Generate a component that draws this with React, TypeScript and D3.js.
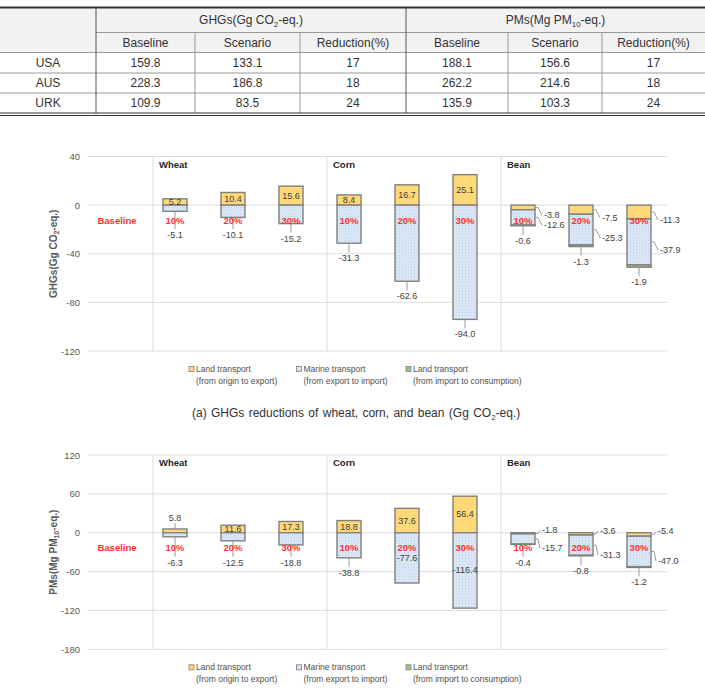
import React from "react";
import * as d3 from "d3";

const FONT = "'Liberation Sans', Arial, Helvetica, sans-serif";

// ---- Summary table ----
const countries = ["USA", "AUS", "URK"];
const ghgBaseline = [159.8, 228.3, 109.9];
const ghgScenario = [133.1, 186.8, 83.5];
const ghgReduction = [17, 18, 24];
const pmBaseline = [188.1, 262.2, 135.9];
const pmScenario = [156.6, 214.6, 103.3];
const pmReduction = [17, 18, 24];
const subHeaders = ["Baseline", "Scenario", "Reduction(%)"];

// ---- Stacked bar charts ----
const crops = ["Wheat", "Corn", "Bean"];
const scenarios = ["10%", "20%", "30%"];
const legendLines = [
  ["Land transport", "(from origin to export)"],
  ["Marine transport", "(from export to import)"],
  ["Land transport", "(from import to consumption)"],
];

// GHGs (Gg CO2-eq.)
const ghgTicks = [40, 0, -40, -80, -120];
const ghgLandOrigin = [5.2, 10.4, 15.6, 8.4, 16.7, 25.1, -3.8, -7.5, -11.3];
const ghgMarine = [-5.1, -10.1, -15.2, -31.3, -62.6, -94.0, -12.6, -25.3, -37.9];
const ghgLandImport = [0, 0, 0, 0, 0, 0, -0.6, -1.3, -1.9];

// PMs (Mg PM10-eq.)
const pmTicks = [120, 60, 0, -60, -120, -180];
const pmLandOrigin = [5.8, 11.6, 17.3, 18.8, 37.6, 56.4, -1.8, -3.6, -5.4];
const pmMarine = [-6.3, -12.5, -18.8, -38.8, -77.6, -116.4, -15.7, -31.3, -47.0];
const pmLandImport = [0, 0, 0, 0, 0, 0, -0.4, -0.8, -1.2];

const YELLOW = "#ffd877";
const GREEN = "#9fc18f";
const EDGE = "#808080";
const RED = "#ff3030";
const GRID = "#dcdcdc";
const LEADER = "#9a9a9a";

type ChartProps = {
  top: number;
  bottom: number;
  ticks: number[];
  origin: number[];
  marine: number[];
  imp: number[];
  title: React.ReactNode;
  insideMin: number;
  sideGap: number;
  dyO: number;
  dyM: number;
};

function StackChart(p: ChartProps) {
  const left = 88;
  const right = 668;
  const slots = ["Baseline", ...crops.flatMap((c) => scenarios.map((s) => `${c} ${s}`))];
  const x = d3.scaleBand<string>().domain(slots).range([left, right]).padding(0);
  const y = d3
    .scaleLinear()
    .domain([p.ticks[0], p.ticks[p.ticks.length - 1]])
    .range([p.top, p.bottom]);
  const zeroY = y(0);
  const rows = p.origin.map((v, i) => ({ origin: v, marine: p.marine[i], imp: p.imp[i] }));
  const keys = ["origin", "marine", "imp"];
  const stacked = d3.stack<any>().keys(keys).offset(d3.stackOffsetDiverging)(rows);
  const fills = [YELLOW, "url(#dots)", GREEN];
  const barW = 24;
  const cx = (i: number) => (x(slots[i + 1]) as number) + x.bandwidth() / 2;
  const fmt = (v: number) => v.toFixed(1);
  const labelStyle = { fontFamily: FONT, fontSize: 9, fill: "#404040" } as const;

  const leaders: React.ReactNode[] = [];
  const labels: React.ReactNode[] = [];

  rows.forEach((r, i) => {
    const c = cx(i);
    const o = stacked[0][i];
    const m = stacked[1][i];
    const g = stacked[2][i];
    const minVal = Math.min(o[0], o[1], m[0], m[1], g[0], g[1]);
    const bottomY = y(minVal);
    const belowY = Math.max(bottomY + 15, zeroY + 30);
    const barRight = c + barW / 2;

    const below = (v: number, k: string) => {
      leaders.push(
        <line key={`lb${k}${i}`} x1={c} x2={c} y1={bottomY} y2={belowY - 6} stroke={LEADER} strokeWidth={1} />
      );
      labels.push(
        <text key={`tb${k}${i}`} x={c} y={belowY} textAnchor="middle" dominantBaseline="central" {...labelStyle}>
          {fmt(v)}
        </text>
      );
    };

    if (r.origin > 0) {
      const topY = y(r.origin);
      if (zeroY - topY >= 5) {
        labels.push(
          <text key={`to${i}`} x={c} y={(zeroY + topY) / 2} textAnchor="middle" dominantBaseline="central" {...labelStyle}>
            {fmt(r.origin)}
          </text>
        );
      } else {
        leaders.push(
          <line key={`lo${i}`} x1={c} x2={c} y1={topY} y2={topY - 6} stroke={LEADER} strokeWidth={1} />
        );
        labels.push(
          <text key={`to${i}`} x={c} y={topY - 11} textAnchor="middle" dominantBaseline="central" {...labelStyle}>
            {fmt(r.origin)}
          </text>
        );
      }
      const mh = y(Math.min(m[0], m[1])) - zeroY;
      if (mh > p.insideMin) {
        labels.push(
          <text key={`tm${i}`} x={c} y={zeroY + mh / 2} textAnchor="middle" dominantBaseline="central" {...labelStyle}>
            {fmt(r.marine)}
          </text>
        );
      } else {
        below(r.marine, "m");
      }
    } else {
      // all segments negative: values set out to the right of the bar
      const side = (seg: number[], v: number, dy: number, k: string) => {
        const sy = (y(seg[0]) + y(seg[1])) / 2;
        const ty = sy + dy;
        const tx = barRight + p.sideGap;
        leaders.push(
          <polyline
            key={`ls${k}${i}`}
            points={`${barRight + 1},${sy} ${barRight + 3},${sy} ${tx - 2},${ty}`}
            fill="none"
            stroke={LEADER}
            strokeWidth={1}
          />
        );
        labels.push(
          <text key={`ts${k}${i}`} x={tx} y={ty} dominantBaseline="central" {...labelStyle}>
            {fmt(v)}
          </text>
        );
      };
      side(o as unknown as number[], r.origin, p.dyO, "o");
      side(m as unknown as number[], r.marine, p.dyM, "m");
      if (r.imp !== 0) below(r.imp, "g");
    }
  });

  return (
    <g>
      {/* horizontal gridlines and tick labels */}
      {p.ticks.map((t) => (
        <g key={`t${t}`}>
          <line x1={left} x2={right - 1} y1={y(t)} y2={y(t)} stroke={GRID} strokeWidth={1} />
          <text
            x={80}
            y={y(t)}
            textAnchor="end"
            dominantBaseline="central"
            fontFamily={FONT}
            fontSize={9.5}
            fill="#595959"
          >
            {t}
          </text>
        </g>
      ))}
      {/* crop group separators and names */}
      {crops.map((cr) => {
        const sx = (x(`${cr} 10%`) as number) + 7;
        return (
          <g key={cr}>
            <line x1={sx} x2={sx} y1={p.top} y2={p.bottom} stroke={GRID} strokeWidth={1} />
            <text
              x={sx + 6}
              y={p.top + 7.5}
              dominantBaseline="central"
              fontFamily={FONT}
              fontSize={9.5}
              fontWeight="bold"
              fill="#262626"
            >
              {cr}
            </text>
          </g>
        );
      })}
      {/* y-axis title */}
      <text
        transform={`translate(53,${(p.top + p.bottom) / 2}) rotate(-90)`}
        textAnchor="middle"
        dominantBaseline="central"
        fontFamily={FONT}
        fontSize={10}
        fontWeight="bold"
        fill="#595959"
      >
        {p.title}
      </text>
      {/* stacked bars */}
      {stacked.map((s, k) =>
        s.map((d, i) => {
          const hi = Math.max(d[0], d[1]);
          const lo = Math.min(d[0], d[1]);
          if (hi === lo) return null;
          return (
            <rect
              key={`b${k}-${i}`}
              x={cx(i) - barW / 2}
              y={y(hi)}
              width={barW}
              height={y(lo) - y(hi)}
              fill={fills[k]}
              stroke={EDGE}
              strokeWidth={1.4}
            />
          );
        })
      )}
      {leaders}
      {/* scenario labels */}
      <text
        x={(x("Baseline") as number) + x.bandwidth() / 2}
        y={zeroY + 15}
        textAnchor="middle"
        dominantBaseline="central"
        fontFamily={FONT}
        fontSize={9.5}
        fontWeight="bold"
        fill={RED}
      >
        Baseline
      </text>
      {rows.map((_, i) => (
        <text
          key={`p${i}`}
          x={cx(i)}
          y={zeroY + 15}
          textAnchor="middle"
          dominantBaseline="central"
          fontFamily={FONT}
          fontSize={9.5}
          fontWeight="bold"
          fill={RED}
        >
          {scenarios[i % 3]}
        </text>
      ))}
      {labels}
      {/* legend */}
      {legendLines.map((ln, k) => {
        const lx = [189, 296.5, 406][k];
        const ly = p.bottom + 18;
        return (
          <g key={`lg${k}`}>
            <rect x={lx} y={ly - 2.5} width={5} height={5} fill={fills[k]} stroke={EDGE} strokeWidth={0.8} />
            <text x={lx + 7} y={ly} dominantBaseline="central" fontFamily={FONT} fontSize={8.5} fill="#505050">
              {ln[0]}
            </text>
            <text x={lx + 7} y={ly + 11.5} dominantBaseline="central" fontFamily={FONT} fontSize={8.5} fill="#505050">
              {ln[1]}
            </text>
          </g>
        );
      })}
    </g>
  );
}

function SummaryTable() {
  const cols = [0, 96, 195, 300, 406, 508, 602, 705];
  const rowsY = [7.5, 32.5, 52.5, 73, 93, 113];
  const tStyle = { fontFamily: FONT, fontSize: 12, fill: "#333" } as const;
  const mid = (a: number, b: number) => (a + b) / 2;
  const data = countries.map((c, i) => [
    c,
    ghgBaseline[i].toFixed(1),
    ghgScenario[i].toFixed(1),
    String(ghgReduction[i]),
    pmBaseline[i].toFixed(1),
    pmScenario[i].toFixed(1),
    String(pmReduction[i]),
  ]);
  return (
    <g>
      <rect x={0} y={rowsY[0]} width={705} height={rowsY[2] - rowsY[0]} fill="#f2f2f2" />
      {/* inner horizontal rules */}
      <line x1={cols[1]} x2={705} y1={rowsY[1]} y2={rowsY[1]} stroke="#9a9a9a" strokeWidth={1} />
      {[rowsY[2], rowsY[3], rowsY[4]].map((yy) => (
        <line key={yy} x1={0} x2={705} y1={yy} y2={yy} stroke="#9a9a9a" strokeWidth={1} />
      ))}
      {/* vertical rules */}
      {[cols[1], cols[4]].map((xx) => (
        <line key={xx} x1={xx} x2={xx} y1={rowsY[0]} y2={rowsY[5]} stroke="#555" strokeWidth={1} />
      ))}
      {[cols[2], cols[3], cols[5], cols[6]].map((xx) => (
        <line key={xx} x1={xx} x2={xx} y1={rowsY[1]} y2={rowsY[5]} stroke="#9a9a9a" strokeWidth={1} />
      ))}
      {/* outer rules */}
      <line x1={0} x2={705} y1={rowsY[0]} y2={rowsY[0]} stroke="#333" strokeWidth={2} />
      <line x1={0} x2={705} y1={rowsY[5]} y2={rowsY[5]} stroke="#333" strokeWidth={1} />
      <line x1={0} x2={705} y1={rowsY[5] + 2.5} y2={rowsY[5] + 2.5} stroke="#333" strokeWidth={1} />
      {/* group headers */}
      <text x={mid(cols[1], cols[4])} y={mid(rowsY[0], rowsY[1])} textAnchor="middle" dominantBaseline="central" {...tStyle}>
        GHGs(Gg CO<tspan baselineShift="sub" fontSize={8}>2</tspan>
        <tspan>-eq.)</tspan>
      </text>
      <text x={mid(cols[4], cols[7])} y={mid(rowsY[0], rowsY[1])} textAnchor="middle" dominantBaseline="central" {...tStyle}>
        PMs(Mg PM<tspan baselineShift="sub" fontSize={8}>10</tspan>
        <tspan>-eq.)</tspan>
      </text>
      {[0, 1].flatMap((gi) =>
        subHeaders.map((h, j) => {
          const ci = 1 + gi * 3 + j;
          return (
            <text
              key={`h${gi}${j}`}
              x={mid(cols[ci], cols[ci + 1])}
              y={mid(rowsY[1], rowsY[2])}
              textAnchor="middle"
              dominantBaseline="central"
              {...tStyle}
            >
              {h}
            </text>
          );
        })
      )}
      {data.map((row, ri) =>
        row.map((cell, ci) => (
          <text
            key={`c${ri}-${ci}`}
            x={mid(cols[ci], cols[ci + 1])}
            y={mid(rowsY[ri + 2], rowsY[ri + 3])}
            textAnchor="middle"
            dominantBaseline="central"
            {...tStyle}
          >
            {cell}
          </text>
        ))
      )}
    </g>
  );
}

export default function App() {
  return (
    <svg
      width={705}
      height={699}
      style={{ position: "absolute", left: 0, top: 0, background: "#fff" }}
    >
      <defs>
        <pattern id="dots" width="3" height="3" patternUnits="userSpaceOnUse">
          <rect width="3" height="3" fill="#dde9f6" />
          <rect x="0" y="0" width="1" height="1" fill="#b9cde3" />
          <rect x="1.5" y="1.5" width="1" height="1" fill="#c8d8ea" />
        </pattern>
      </defs>
      <rect width={705} height={699} fill="#fff" />
      <SummaryTable />
      <StackChart
        top={156.5}
        bottom={351}
        ticks={ghgTicks}
        origin={ghgLandOrigin}
        marine={ghgMarine}
        imp={ghgLandImport}
        title={
          <>
            GHGs(Gg CO<tspan baselineShift="sub" fontSize={7}>2</tspan>
            <tspan>-eq.)</tspan>
          </>
        }
        insideMin={Infinity}
        sideGap={9}
        dyO={8}
        dyM={8}
      />
      <text x={192} y={413} dominantBaseline="central" fontFamily={FONT} fontSize={12} fill="#333" wordSpacing={1}>
        (a) GHGs reductions of wheat, corn, and bean (Gg CO<tspan baselineShift="sub" fontSize={8}>2</tspan>
        <tspan>-eq.)</tspan>
      </text>
      <StackChart
        top={455}
        bottom={649.3}
        ticks={pmTicks}
        origin={pmLandOrigin}
        marine={pmMarine}
        imp={pmLandImport}
        title={
          <>
            PMs(Mg PM<tspan baselineShift="sub" fontSize={7}>10</tspan>
            <tspan>-eq.)</tspan>
          </>
        }
        insideMin={40}
        sideGap={7}
        dyO={-3}
        dyM={9.5}
      />
    </svg>
  );
}
